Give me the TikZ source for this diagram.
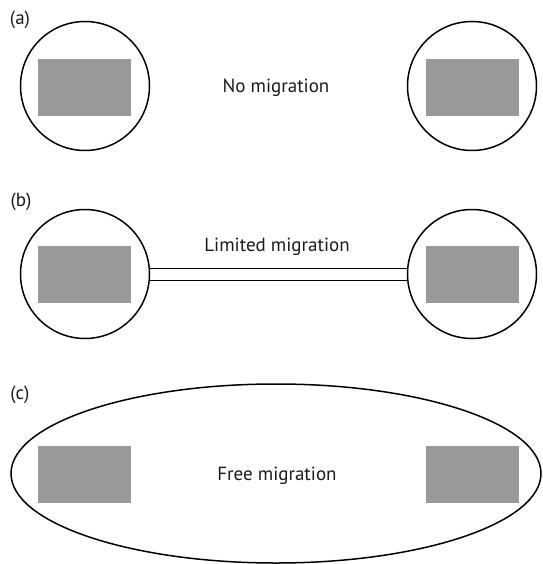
\documentclass[tikz,border=0pt]{standalone}
\usepackage{fontspec}
\setmainfont{PT Sans}
\usepackage{tikz}
\usetikzlibrary{positioning, shapes.geometric}
\definecolor{PatchGray}{HTML}{999999}
\definecolor{InkBlack}{HTML}{1A1A1A}

\begin{document}
\begin{tikzpicture}[x=1pt,y=-1pt,
    deme/.style={circle,draw,line width=1.5pt,minimum size=129pt,inner sep=0pt},
    bigdeme/.style={ellipse,draw,line width=1.5pt,minimum width=530pt,minimum height=179pt,inner sep=0pt},
    patch/.style={fill=PatchGray,minimum width=93pt,minimum height=57pt,inner sep=0pt},
    corridor/.style={line width=1pt},
    caption/.style={text=InkBlack,font=\fontsize{19}{22}\selectfont},
    tag/.style={text=InkBlack,font=\fontsize{19}{22}\selectfont}]
\useasboundingbox (0,0) rectangle (542,564);

% (a) two separate demes
\node[tag] (taga) at (20,19.5) {(a)};
\node[deme] (a1) at (85,86) {};
\node[deme] (a2) at (472,86) {};
\node[patch] (pa1) at (84.5,87.5) {};
\node[patch] (pa2) at (472.5,87.5) {};
\node[caption] (txa) at (276,87.5) {No migration};

% (b) demes joined by a narrow corridor
\node[tag] (tagb) at (21,202) {(b)};
\node[deme] (b1) at (85,274) {};
\node[deme] (b2) at (472,274) {};
\node[patch] (pb1) at (84.5,274) {};
\node[patch] (pb2) at (472.5,274) {};
\draw[corridor] ([yshift=6pt]b1.east) -- ([yshift=6pt]b2.west);
\draw[corridor] ([yshift=-6pt]b1.east) -- ([yshift=-6pt]b2.west);
\node[caption] (txb) at (277,247) {Limited migration};

% (c) one shared range
\node[tag] (tagc) at (20,395) {(c)};
\node[bigdeme] (c0) at (276,473.5) {};
\node[patch] (pc1) at (84.5,474.5) {};
\node[patch] (pc2) at (472.5,474.5) {};
\node[caption] (txc) at (277,476) {Free migration};
\end{tikzpicture}
\end{document}
